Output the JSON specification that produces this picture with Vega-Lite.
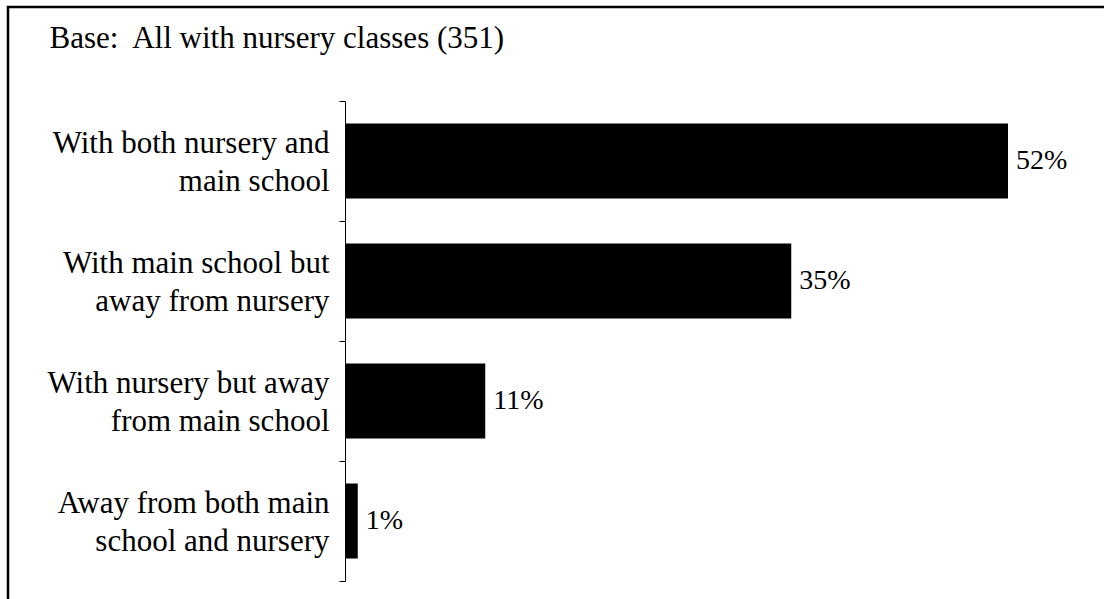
{
  "$schema": "https://vega.github.io/schema/vega-lite/v6.json",
  "autosize": "none",
  "width": 1110,
  "height": 600,
  "padding": {"left": 8, "top": 7, "right": 0, "bottom": 0},
  "background": "white",
  "config": {"view": {"stroke": "black", "strokeWidth": 2.5}, "font": "Liberation Serif"},
  "data": {
    "values": [
      {"category": "With both nursery and|main school", "value": 52, "label": "52%"},
      {"category": "With main school but|away from nursery", "value": 35, "label": "35%"},
      {"category": "With nursery but away|from main school", "value": 11, "label": "11%"},
      {"category": "Away from both main|school and nursery", "value": 1, "label": "1%"}
    ]
  },
  "encoding": {
    "y": {
      "field": "category",
      "type": "nominal",
      "sort": null,
      "scale": {"range": [94, 574], "paddingInner": 0, "paddingOuter": 0},
      "axis": {
        "orient": "left",
        "offset": -337,
        "title": null,
        "grid": false,
        "tickBand": "extent",
        "tickSize": 6,
        "tickColor": "black",
        "domainColor": "black",
        "labelFont": "Liberation Serif",
        "labelFontSize": 31,
        "labelColor": "black",
        "labelPadding": 10,
        "labelLineHeight": 38,
        "labelOffset": -18,
        "labelLimit": 0,
        "labelAlign": "right",
        "labelBaseline": "middle",
        "labelExpr": "datum.value ? split(datum.value, '|') : ''"
      }
    },
    "x": {
      "field": "value",
      "type": "quantitative",
      "scale": {"domain": [0, 60], "range": [337, 1102]},
      "axis": {
        "orient": "top",
        "title": "Base:\u00a0 All with nursery classes (351)",
        "domain": false,
        "ticks": false,
        "labels": false,
        "grid": false,
        "titleAnchor": "start",
        "titleAlign": "left",
        "titleBaseline": "alphabetic",
        "titleX": 41,
        "titleY": 40,
        "titleFont": "Liberation Serif",
        "titleFontSize": 31,
        "titleFontWeight": "normal",
        "titleColor": "black"
      }
    }
  },
  "layer": [
    {"mark": {"type": "bar", "color": "black", "height": {"band": 0.625}}},
    {
      "mark": {"type": "text", "align": "left", "dx": 8, "baseline": "middle", "fontSize": 28, "font": "Liberation Serif", "color": "black"},
      "encoding": {"text": {"field": "label"}}
    }
  ]
}
